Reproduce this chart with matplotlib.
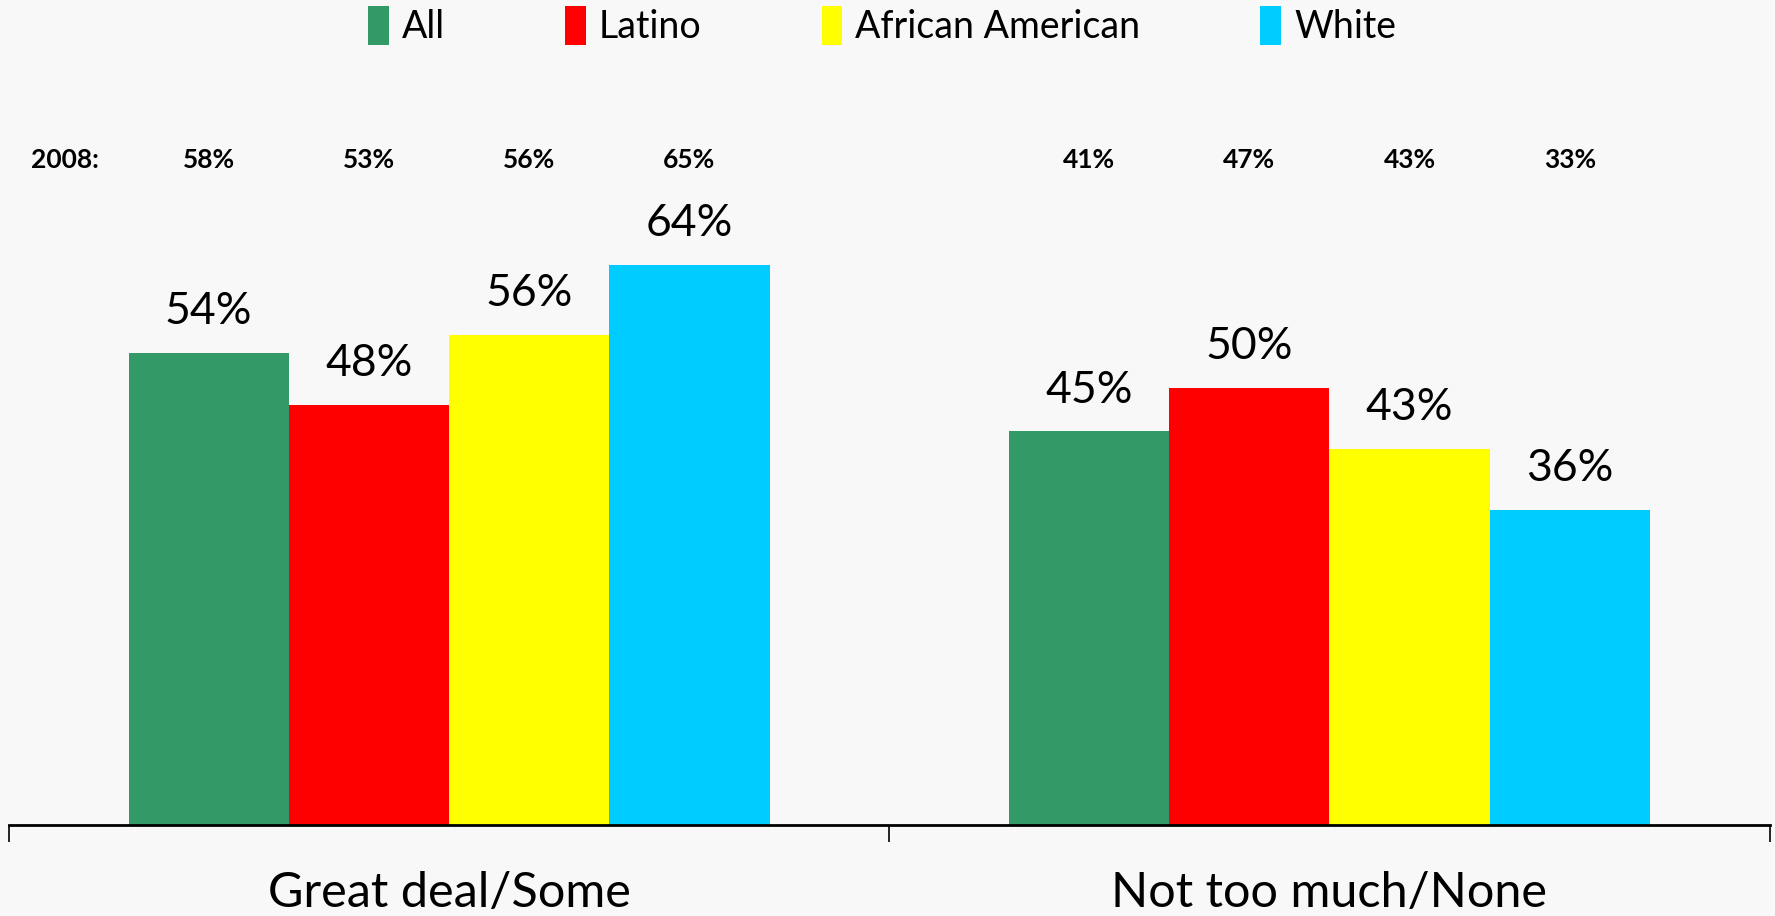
import numpy as np
import matplotlib
matplotlib.use("Agg")
import matplotlib.pyplot as plt
from matplotlib.patches import Patch

plt.rcParams["font.family"] = ["Lato", "DejaVu Sans"]

categories = ["Great deal/Some", "Not too much/None"]
groups = ["All", "Latino", "African American", "White"]
values_now = {
    "All": [54, 45],
    "Latino": [48, 50],
    "African American": [56, 43],
    "White": [64, 36],
}
values_2008 = {
    "All": [58, 41],
    "Latino": [53, 47],
    "African American": [56, 43],
    "White": [65, 33],
}
colors = ["#339966", "#ff0000", "#ffff00", "#00ccff"]

bg = "#f8f8f8"
fig = plt.figure(figsize=(17.75, 9.16), dpi=100, facecolor=bg)
ax = fig.add_axes([0.005, 0.0993, 0.992, 0.85])
ax.set_facecolor(bg)

x = np.arange(len(categories))
width = 0.182
offsets = (np.arange(len(groups)) - 1.5) * width

for i, g in enumerate(groups):
    bars = ax.bar(x + offsets[i], values_now[g], width, color=colors[i], zorder=2)
    for b, v in zip(bars, values_now[g]):
        ax.annotate(f"{v}%", (b.get_x() + b.get_width() / 2, b.get_height()),
                    xytext=(0, 15), textcoords="offset points",
                    ha="center", va="bottom", fontsize=32)
    for xi, v in zip(x, values_2008[g]):
        ax.text(xi + offsets[i], 76, f"{v}%", ha="center", va="center",
                fontsize=19, fontweight="bold")

ax.text(-0.436, 76, "2008:", ha="center", va="center", fontsize=19, fontweight="bold")

ax.set_xlim(-0.5, 1.5)
ax.set_ylim(0, 89)
ax.set_yticks([])
ax.set_xticks(x)
ax.set_xticklabels(categories, fontsize=35)
ax.tick_params(axis="x", which="major", length=0, pad=33)
ax.set_xticks([-0.5, 0.5, 1.5], minor=True)
ax.tick_params(axis="x", which="minor", length=12, width=1.2, direction="out")
for s in ["top", "right", "left"]:
    ax.spines[s].set_visible(False)
ax.spines["bottom"].set_linewidth(2)

handles = [Patch(facecolor=c, label=g) for c, g in zip(colors, groups)]
fig.legend(handles=handles, loc="upper center", bbox_to_anchor=(0.497, 1.03), ncol=4,
           frameon=False, fontsize=27, handlelength=0.55, handleheight=1.2,
           handletextpad=0.35, columnspacing=3.2)

fig.savefig("out.png", dpi=100, facecolor=bg)
